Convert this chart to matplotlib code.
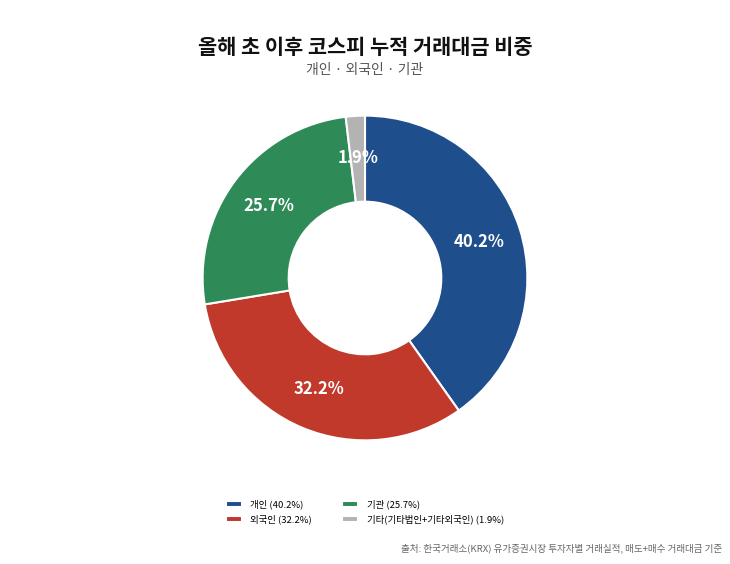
import numpy as np
import matplotlib.pyplot as plt

plt.rcParams['font.family'] = ['Noto Sans CJK KR', 'DejaVu Sans']

labels = ['개인', '외국인', '기관', '기타(기타법인+기타외국인)']
shares = [40.2, 32.2, 25.7, 1.9]
colors = ['#1f4e8c', '#c0392b', '#2e8b57', '#b3b3b3']

fig = plt.figure(figsize=(7.3, 5.64), dpi=100)
ax = fig.add_axes([0.5 - 164 / 730, 1 - (278 + 164) / 564, 328 / 730, 328 / 564])

wedges, texts = ax.pie(shares, colors=colors, startangle=90, counterclock=False,
                       wedgeprops=dict(width=0.53, edgecolor='white', linewidth=1.5))
ax.set_xlim(-1.01, 1.01)
ax.set_ylim(-1.01, 1.01)
ax.set_aspect('equal')

# value labels at the middle of the ring
for w, v in zip(wedges, shares):
    mid = np.deg2rad((w.theta1 + w.theta2) / 2)
    r = 0.74
    ax.text(r * np.cos(mid), r * np.sin(mid), f'{v}%', ha='center', va='center',
            color='white', fontsize=12, fontweight='bold')

fig.text(0.5, 1 - 47 / 564, '올해 초 이후 코스피 누적 거래대금 비중', ha='center', va='center',
         fontsize=15, fontweight='bold', color='#111111')
fig.text(0.5, 1 - 70 / 564, '개인 · 외국인 · 기관', ha='center', va='center',
         fontsize=10, color='#555555')

leg_labels = [f'{l} ({v}%)' for l, v in zip(labels, shares)]
fig.legend(wedges, leg_labels, loc='center', bbox_to_anchor=(0.5, 1 - 512 / 564),
           ncol=2, frameon=False, fontsize=6.8, handlelength=1.7, handleheight=0.5,
           handletextpad=0.9, columnspacing=3.2, labelspacing=0.55)

fig.text(1 - 8 / 730, 1 - 548 / 564,
         '출처: 한국거래소(KRX) 유가증권시장 투자자별 거래실적, 매도+매수 거래대금 기준',
         ha='right', va='center', fontsize=6.9, color='#666666')

fig.savefig('out.png', dpi=100, facecolor='white')
